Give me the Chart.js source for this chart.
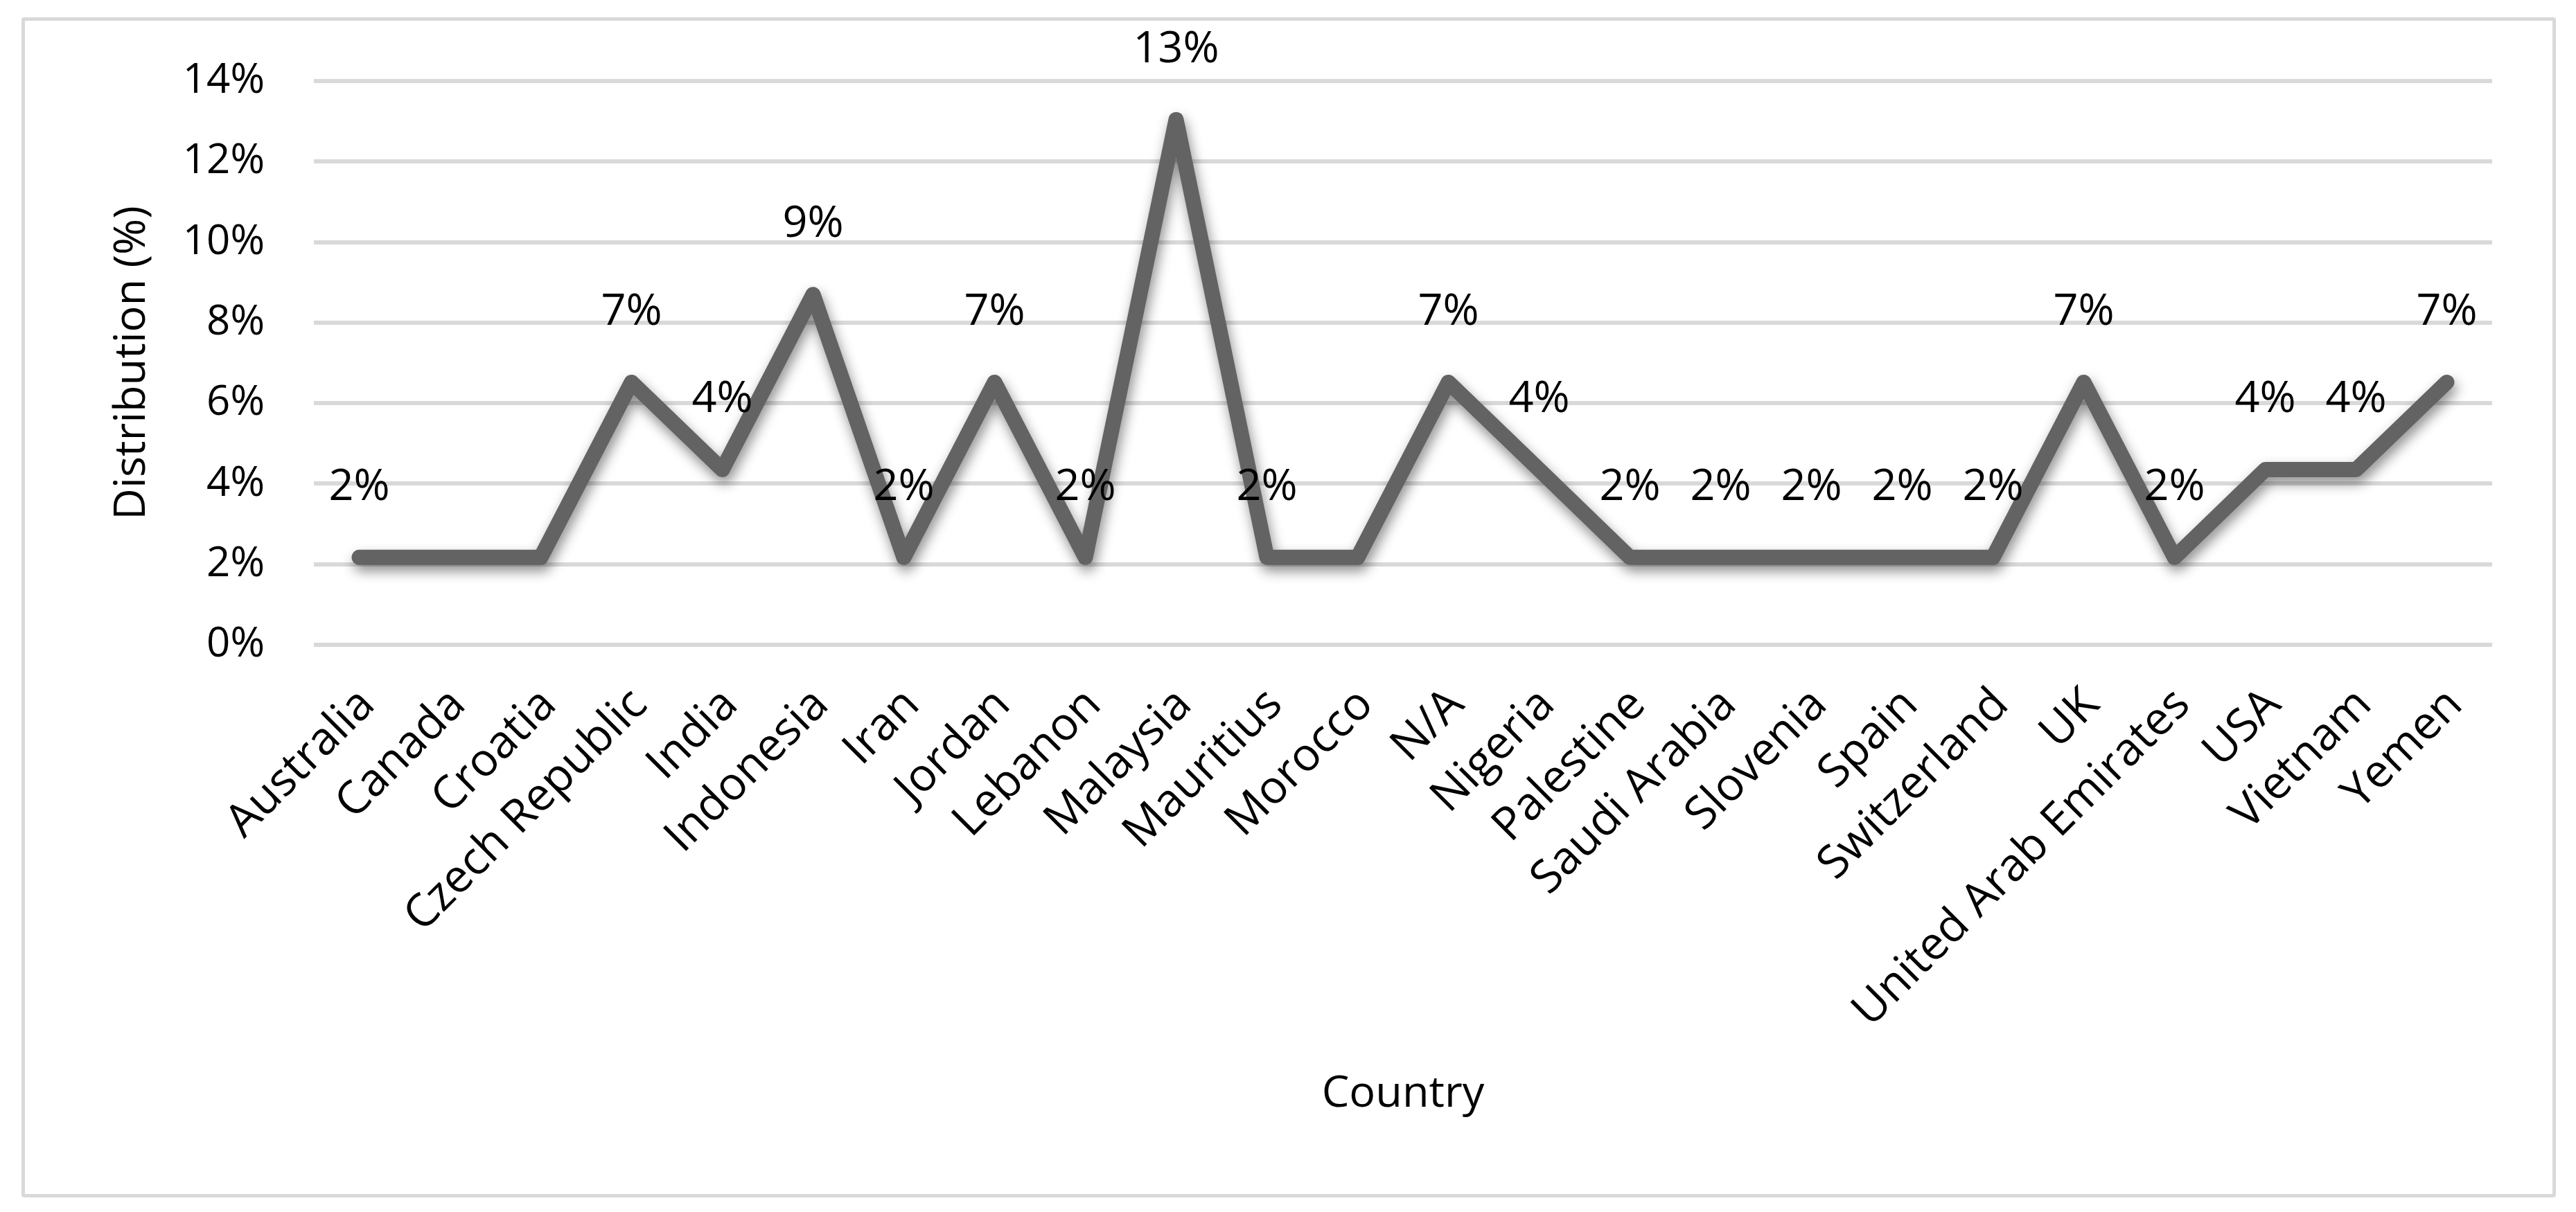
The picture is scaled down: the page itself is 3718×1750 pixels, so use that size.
<!DOCTYPE html>
<html>
<head>
<meta charset="utf-8">
<script src="https://cdn.jsdelivr.net/npm/chart.js@4/dist/chart.umd.min.js"></script>
<style>
  html, body { margin: 0; padding: 0; background: #ffffff; }
  #wrap { position: relative; width: 3718px; height: 1750px; }
  #frame { position: absolute; left: 31px; top: 25px; width: 3658px; height: 1704px;
           box-sizing: border-box; border: 5px solid #d9d9d9; border-radius: 4px; pointer-events: none; }
  canvas { position: absolute; left: 0; top: 0; }
</style>
</head>
<body>
<div id="wrap">
  <canvas id="c" width="3718" height="1750"></canvas>
  <div id="frame"></div>
</div>
<script>
const categories = ["Australia", "Canada", "Croatia", "Czech Republic", "India", "Indonesia", "Iran", "Jordan",
  "Lebanon", "Malaysia", "Mauritius", "Morocco", "N/A", "Nigeria", "Palestine", "Saudi Arabia", "Slovenia",
  "Spain", "Switzerland", "UK", "United Arab Emirates", "USA", "Vietnam", "Yemen"];
const distribution = [2.17, 2.17, 2.17, 6.52, 4.35, 8.70, 2.17, 6.52, 2.17, 13.04, 2.17, 2.17, 6.52, 4.35,
  2.17, 2.17, 2.17, 2.17, 2.17, 6.52, 2.17, 4.35, 4.35, 6.52];
const pointLabels = ["2%", "", "", "7%", "4%", "9%", "2%", "7%", "2%", "13%", "2%", "", "7%", "4%",
  "2%", "2%", "2%", "2%", "2%", "7%", "2%", "4%", "4%", "7%"];
const yMin = 0, yMax = 14, yStep = 2;
const xTitle = "Country";
const yTitle = "Distribution (%)";

const FONT = "'Open Sans', 'DejaVu Sans', sans-serif";
const FS = 63;

const shadowPlugin = {
  id: 'lineShadow',
  beforeDatasetDraw(chart) {
    const ctx = chart.ctx;
    ctx.save();
    ctx.shadowColor = 'rgba(0,0,0,0.45)';
    ctx.shadowBlur = 18;
    ctx.shadowOffsetX = 3;
    ctx.shadowOffsetY = 9;
  },
  afterDatasetDraw(chart) {
    chart.ctx.restore();
  }
};

const labelPlugin = {
  id: 'pointLabels',
  afterDatasetsDraw(chart) {
    const ctx = chart.ctx;
    const meta = chart.getDatasetMeta(0);
    ctx.save();
    ctx.font = FS + "px " + FONT;
    ctx.fillStyle = '#000000';
    ctx.textAlign = 'center';
    ctx.textBaseline = 'middle';
    meta.data.forEach((pt, i) => {
      const t = pointLabels[i];
      if (t) ctx.fillText(t, pt.x, pt.y - 101);
    });
    ctx.restore();
  }
};

new Chart(document.getElementById('c'), {
  type: 'line',
  data: {
    labels: categories,
    datasets: [{
      data: distribution,
      borderColor: '#636363',
      borderWidth: 22,
      borderCapStyle: 'round',
      borderJoinStyle: 'round',
      pointRadius: 0,
      pointHoverRadius: 0,
      tension: 0,
      fill: false
    }]
  },
  options: {
    responsive: false,
    animation: false,
    devicePixelRatio: 1,
    layout: { padding: { left: 0, right: 121, top: 117, bottom: 0 } },
    plugins: { legend: { display: false }, tooltip: { enabled: false } },
    scales: {
      x: {
        type: 'category',
        offset: true,
        grid: { display: false, drawTicks: false },
        border: { display: false },
        ticks: {
          autoSkip: false, minRotation: 45, maxRotation: 45, padding: 48, labelOffset: 12,
          color: '#000000', font: { family: FONT, size: 66 }
        },
        title: { display: true, text: xTitle, color: '#000000',
                 font: { family: FONT, size: FS }, padding: { top: 0, bottom: 132 } },
        afterFit(s) { s.height = 819; }
      },
      y: {
        min: yMin, max: yMax,
        grid: { color: '#d9d9d9', lineWidth: 6, drawTicks: false },
        border: { display: false },
        ticks: {
          stepSize: yStep, padding: 71, color: '#000000',
          font: { family: FONT, size: 60 },
          callback: v => v + '%'
        },
        title: { display: true, text: yTitle, color: '#000000',
                 font: { family: FONT, size: FS }, padding: { top: 153, bottom: 0 } },
        afterFit(s) { s.width = 453; }
      }
    }
  },
  plugins: [shadowPlugin, labelPlugin]
});
</script>
</body>
</html>
